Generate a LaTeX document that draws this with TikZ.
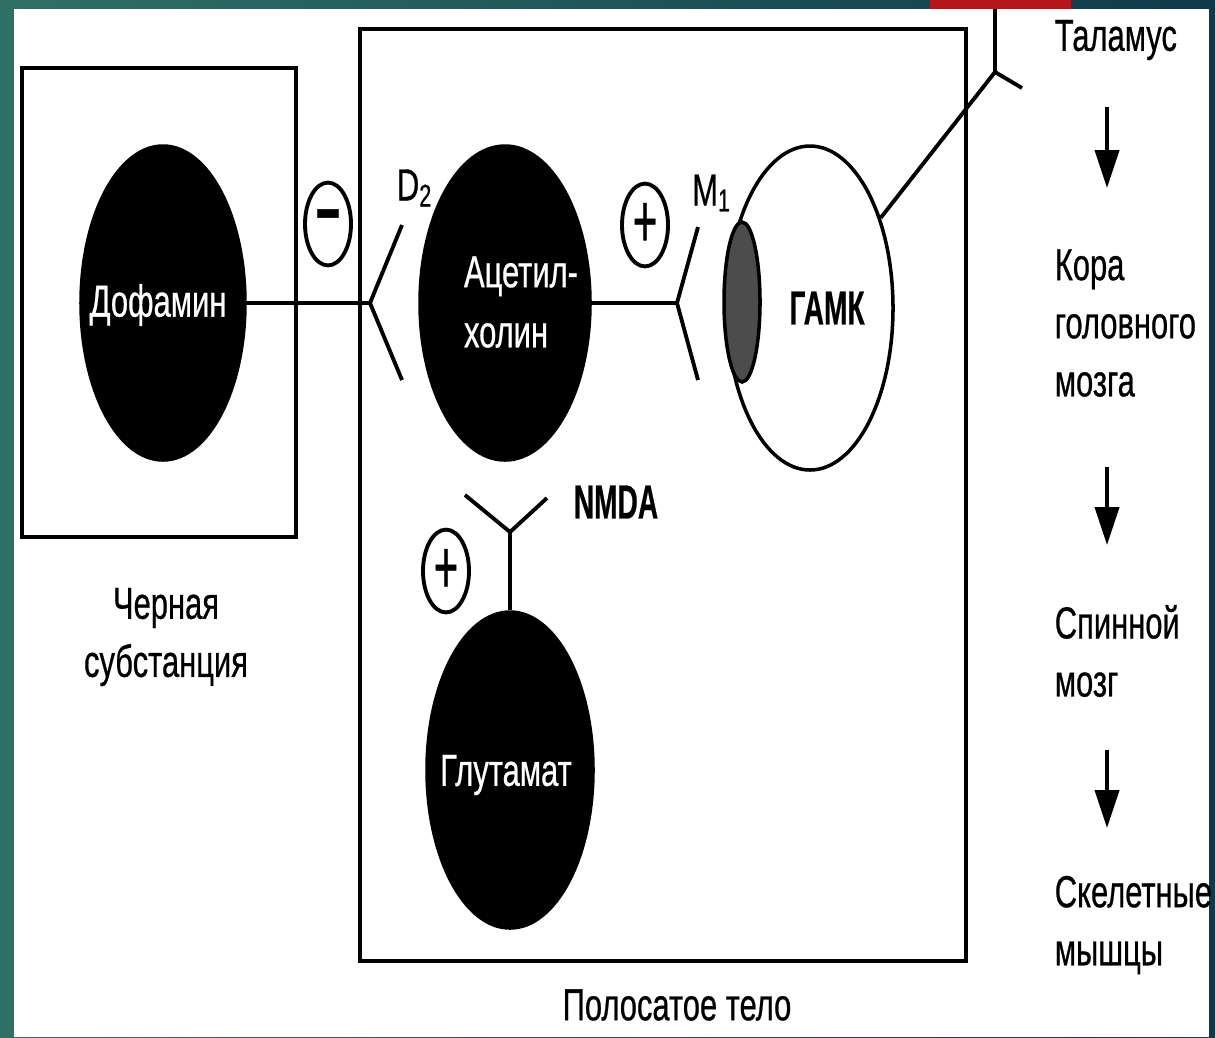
\documentclass[tikz,border=0pt]{standalone}
\usepackage{fontspec}
\setmainfont{Liberation Sans}[FakeBold=0.7]
\usetikzlibrary{shapes.geometric, arrows.meta, positioning}

\definecolor{slideL}{RGB}{47,112,102}
\definecolor{slideR}{RGB}{16,58,74}
\definecolor{slidebar}{RGB}{181,22,26}

\begin{document}
\begin{tikzpicture}[
    x=0.1mm, y=-0.1mm,
    line width=1pt,
    cell/.style={ellipse, fill=black, draw=black, inner sep=0pt},
    intext/.style={text=white, font=\fontsize{8.8}{11.8}\selectfont, yscale=1.45, align=left, inner sep=0pt},
    sign/.style={ellipse, draw=black, line width=1.1pt, minimum size=4.6mm, inner sep=0pt, yscale=1.8, font=\fontsize{12}{12}\selectfont},
    lbl/.style={font=\fontsize{8.8}{11.4}\selectfont, yscale=1.45, align=left, inner sep=0pt},
    boldlbl/.style={font=\fontsize{8}{10}\selectfont\bfseries, yscale=1.7, inner sep=0pt},
    fork/.style={line width=1.1pt},
    flow/.style={line width=1.1pt, -{Triangle[length=3.8mm, width=2.4mm]}}
]
    \useasboundingbox (0,0) rectangle (1215,1037);

    % Slide background
    \fill[left color=slideL, right color=slideR] (0,0) rectangle (1215,1037);
    \fill[white] (14,9) rectangle (1209,1037);
    \fill[slidebar] (930,0) rectangle (1071,9);

    % Regions
    \draw (22,68) rectangle (296,537);
    \draw (360,29) rectangle (966,961);
    \node[lbl, align=center] (nigra) at (166,637) {Черная\\субстанция};
    \node[lbl] (striatum) at (677,1005) {Полосатое тело};

    % Neurons
    \node[cell, minimum width=16.4mm, minimum height=31.4mm] (dopa) at (163,303) {};
    \node[cell, minimum width=17mm, minimum height=31.4mm] (ach) at (505,303) {};
    \node[cell, minimum width=16.6mm, minimum height=31.6mm] (glut) at (510,770) {};
    \node[ellipse, draw=black, fill=white, minimum width=16.6mm, minimum height=32.4mm, inner sep=0pt] (gaba) at (810,308) {};
    \node[ellipse, draw=black, fill=black!70, minimum width=3.6mm, minimum height=16mm, inner sep=0pt] (m1site) at (742,302) {};

    \node[intext] (dopatxt) at (158,305) {Дофамин};
    \node[intext] (achtxt) at (521,302) {Ацетил-\\холин};
    \node[intext] (gluttxt) at (506,775) {Глутамат};
    \node[boldlbl] (gabatxt) at (827,308) {ГАМК};

    % Receptors
    \coordinate (d2fork) at (370,303);
    \coordinate (d2up) at (402,225);
    \coordinate (d2dn) at (402,380);
    \coordinate (m1fork) at (677,303);
    \coordinate (m1up) at (698,227);
    \coordinate (m1dn) at (698,380);
    \coordinate (nmdafork) at (510,532);
    \coordinate (nmdal) at (465,495);
    \coordinate (nmdar) at (547,498);
    \coordinate (talfork) at (995,72);
    \coordinate (taltop) at (995,9);
    \coordinate (talarm) at (1022,88);

    \draw[fork] (dopa) -- (d2fork);
    \draw[fork] (d2up) -- (d2fork) -- (d2dn);
    \draw[fork] (ach) -- (m1fork);
    \draw[fork] (m1up) -- (m1fork) -- (m1dn);
    \draw[fork] (glut) -- (nmdafork);
    \draw[fork] (nmdal) -- (nmdafork) -- (nmdar);
    \draw[fork] (gaba) -- (talfork);
    \draw[fork] (taltop) -- (talfork) -- (talarm);

    \node[lbl] (d2) at (415,188) {D\textsubscript{2}};
    \node[lbl] (m1) at (712,193) {M\textsubscript{1}};
    \node[boldlbl] (nmda) at (616,502) {NMDA};

    % Signs
    \node[sign, font=\fontsize{12}{12}\selectfont\bfseries] (d2sign) at (328,224) {−};
    \node[sign] (m1sign) at (645,225) {+};
    \node[sign] (nmdasign) at (446,571) {+};

    % Pathway
    \node[lbl, anchor=west] (tal) at (1053,40) {Таламус};
    \node[lbl, anchor=west] (cortex) at (1053,323) {Кора\\головного\\мозга};
    \node[lbl, anchor=west] (spine) at (1053,651) {Спинной\\мозг};
    \node[lbl, anchor=west] (muscle) at (1053,925) {Скелетные\\мышцы};

    \coordinate (a1s) at (1107,107);
    \coordinate (a1e) at (1107,188);
    \coordinate (a2s) at (1107,467);
    \coordinate (a2e) at (1107,545);
    \coordinate (a3s) at (1107,750);
    \coordinate (a3e) at (1107,828);
    \draw[flow] (a1s) -- (a1e);
    \draw[flow] (a2s) -- (a2e);
    \draw[flow] (a3s) -- (a3e);
\end{tikzpicture}
\end{document}
